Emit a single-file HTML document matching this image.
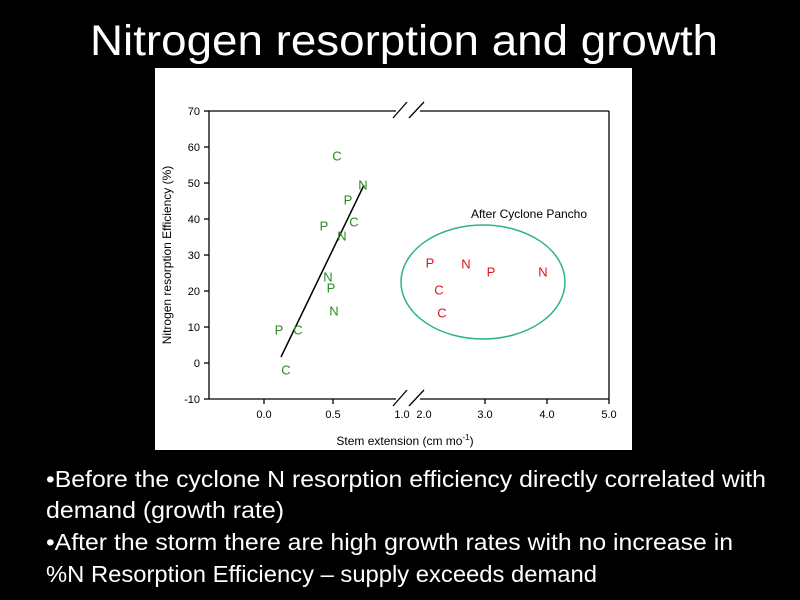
<!DOCTYPE html>
<html><head><meta charset="utf-8"><style>
html,body{margin:0;padding:0;background:#000;width:800px;height:600px;overflow:hidden}
svg{display:block}
</style></head><body>
<svg width="800" height="600" viewBox="0 0 800 600" xmlns="http://www.w3.org/2000/svg">
<rect width="800" height="600" fill="#000"/>
<text x="404" y="55" font-family="Liberation Sans, sans-serif" font-size="43" fill="#fff" text-anchor="middle" textLength="628" lengthAdjust="spacingAndGlyphs">Nitrogen resorption and growth</text>
<rect x="155" y="68" width="477" height="382" fill="#fff"/>
<g stroke="#000" stroke-width="1.3" fill="none">
<line x1="209" y1="111" x2="209" y2="399"/>
<line x1="609" y1="111" x2="609" y2="399"/>
<line x1="209" y1="111" x2="396" y2="111"/>
<line x1="420" y1="111" x2="609" y2="111"/>
<line x1="209" y1="399" x2="396" y2="399"/>
<line x1="420" y1="399" x2="609" y2="399"/>
<line x1="393" y1="118" x2="407" y2="102"/><line x1="409" y1="118" x2="424" y2="102"/>
<line x1="393" y1="406" x2="407" y2="390"/><line x1="409" y1="406" x2="424" y2="390"/>
<g>
<line x1="204" y1="111" x2="209" y2="111"/><line x1="204" y1="147" x2="209" y2="147"/><line x1="204" y1="183" x2="209" y2="183"/><line x1="204" y1="219" x2="209" y2="219"/><line x1="204" y1="255" x2="209" y2="255"/><line x1="204" y1="291" x2="209" y2="291"/><line x1="204" y1="327" x2="209" y2="327"/><line x1="204" y1="363" x2="209" y2="363"/><line x1="204" y1="399" x2="209" y2="399"/>
<line x1="264" y1="399" x2="264" y2="404"/><line x1="333" y1="399" x2="333" y2="404"/><line x1="485" y1="399" x2="485" y2="404"/><line x1="547" y1="399" x2="547" y2="404"/><line x1="609" y1="399" x2="609" y2="404"/>
</g>
<line x1="281" y1="357" x2="364" y2="185" stroke-width="1.5"/>
<ellipse cx="483" cy="282" rx="82" ry="57" stroke="#2bb38f" stroke-width="1.5"/>
</g>
<g font-family="Liberation Sans, sans-serif" font-size="11" fill="#000" text-anchor="end">
<text x="200" y="115">70</text><text x="200" y="151">60</text><text x="200" y="187">50</text><text x="200" y="223">40</text><text x="200" y="259">30</text><text x="200" y="295">20</text><text x="200" y="331">10</text><text x="200" y="367">0</text><text x="200" y="403">-10</text>
</g>
<g font-family="Liberation Sans, sans-serif" font-size="11" fill="#000" text-anchor="middle">
<text x="264" y="418">0.0</text><text x="333" y="418">0.5</text><text x="402" y="418">1.0</text><text x="424" y="418">2.0</text><text x="485" y="418">3.0</text><text x="547" y="418">4.0</text><text x="609" y="418">5.0</text>
<text x="405" y="445" font-size="12">Stem extension (cm mo<tspan dy="-5" font-size="8">-1</tspan><tspan dy="5">)</tspan></text>
<text x="0" y="0" font-size="12" transform="translate(171,255) rotate(-90)">Nitrogen resorption Efficiency (%)</text>
<text x="529" y="218" font-size="12">After Cyclone Pancho</text>
</g>
<g font-family="Liberation Sans, sans-serif" font-size="13" fill="#2a8a1f" text-anchor="middle" dominant-baseline="central">
<text x="337" y="156">C</text><text x="363" y="185">N</text><text x="348" y="200">P</text><text x="324" y="226">P</text><text x="354" y="222">C</text><text x="342" y="236">N</text><text x="328" y="277">N</text><text x="331" y="288">P</text><text x="334" y="311">N</text><text x="279" y="330">P</text><text x="298" y="330">C</text><text x="286" y="370">C</text>
</g>
<g font-family="Liberation Sans, sans-serif" font-size="13" fill="#e0101e" text-anchor="middle" dominant-baseline="central">
<text x="430" y="263">P</text><text x="466" y="264">N</text><text x="491" y="272">P</text><text x="543" y="272">N</text><text x="439" y="290">C</text><text x="442" y="313">C</text>
</g>
<g font-family="Liberation Sans, sans-serif" font-size="23" fill="#fff">
<text x="46" y="487" textLength="720" lengthAdjust="spacingAndGlyphs">•Before the cyclone N resorption efficiency directly correlated with</text>
<text x="46" y="518" textLength="238" lengthAdjust="spacingAndGlyphs">demand (growth rate)</text>
<text x="46" y="550" textLength="687" lengthAdjust="spacingAndGlyphs">•After the storm there are high growth rates with no increase in</text>
<text x="46" y="582" textLength="551" lengthAdjust="spacingAndGlyphs">%N Resorption Efficiency – supply exceeds demand</text>
</g>
</svg>
</body></html>
